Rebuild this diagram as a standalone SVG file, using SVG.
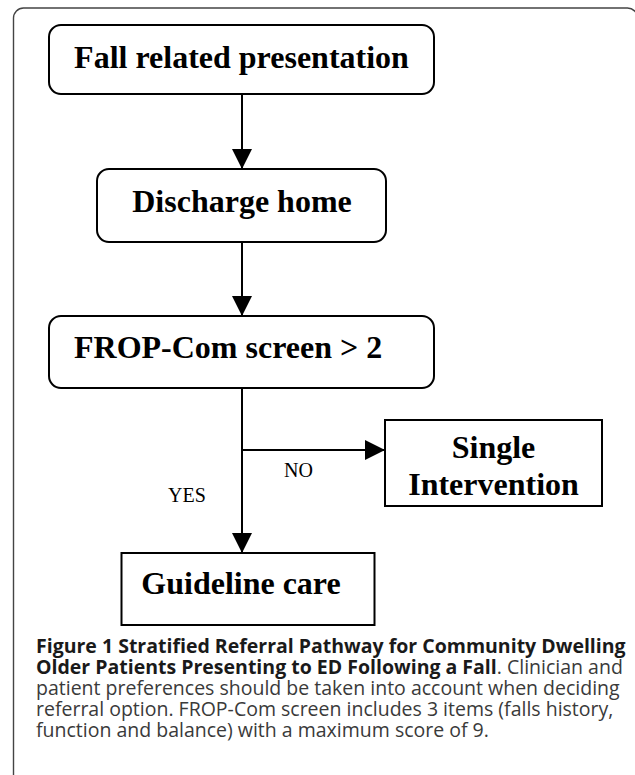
<svg xmlns="http://www.w3.org/2000/svg" width="635" height="775" viewBox="0 0 635 775">
<style>
.frame{fill:none;stroke:#444;stroke-width:1.4}
.box{fill:#fff;stroke:#000;stroke-width:2}
.lbl{font-family:"Liberation Serif","Times New Roman",serif;font-weight:bold;font-size:32px;fill:#000}
.edge{font-family:"Liberation Serif","Times New Roman",serif;font-size:20px;fill:#000}
.conn{fill:none;stroke:#000;stroke-width:2}
.cap{font-family:"Open Sans","Liberation Sans",sans-serif;font-size:19.5px;fill:#3a3a3a}
.capb{font-weight:bold;fill:#1a1a1a}
</style>
<defs>
<marker id="ah" viewBox="0 0 20 20" refX="20" refY="10" markerWidth="20" markerHeight="20" markerUnits="userSpaceOnUse" orient="auto">
<path d="M0,0 L20,10 L0,20 Z" fill="#000"/>
</marker>
</defs>
<rect class="frame" x="13.5" y="8" width="624" height="820" rx="10"/>
<g id="connectors">
<line class="conn" x1="242" y1="94" x2="242" y2="169" marker-end="url(#ah)"/>
<line class="conn" x1="242" y1="242" x2="242" y2="316" marker-end="url(#ah)"/>
<line class="conn" x1="242" y1="388" x2="242" y2="553" marker-end="url(#ah)"/>
<line class="conn" x1="242" y1="450" x2="385" y2="450" marker-end="url(#ah)"/>
<text class="edge" x="284" y="477">NO</text>
<text class="edge" x="168" y="502">YES</text>
</g>
<g id="n1">
<rect class="box" x="49" y="25" width="385" height="69" rx="12"/>
<text class="lbl" x="241.5" y="68" text-anchor="middle">Fall related presentation</text>
</g>
<g id="n2">
<rect class="box" x="97" y="169" width="289" height="73" rx="12"/>
<text class="lbl" x="242" y="212" text-anchor="middle">Discharge home</text>
</g>
<g id="n3">
<rect class="box" x="49" y="316" width="385" height="72" rx="12"/>
<text class="lbl" x="74" y="358">FROP-Com screen &gt; 2</text>
</g>
<g id="n4">
<rect class="box" x="385" y="420" width="217" height="86"/>
<text class="lbl" x="493.5" y="458" text-anchor="middle">Single</text>
<text class="lbl" x="493.5" y="495" text-anchor="middle">Intervention</text>
</g>
<g id="n5">
<rect class="box" x="121.5" y="553" width="253" height="72"/>
<text class="lbl" x="241" y="594" text-anchor="middle">Guideline care</text>
</g>
<g id="caption">
<text class="cap capb" x="36" y="653">Figure 1 Stratified Referral Pathway for Community Dwelling</text>
<text class="cap" x="36" y="674"><tspan class="capb">Older Patients Presenting to ED Following a Fall</tspan>. Clinician and</text>
<text class="cap" x="36" y="695">patient preferences should be taken into account when deciding</text>
<text class="cap" x="36" y="716">referral option. FROP-Com screen includes 3 items (falls history,</text>
<text class="cap" x="36" y="737">function and balance) with a maximum score of 9.</text>
</g>
</svg>
